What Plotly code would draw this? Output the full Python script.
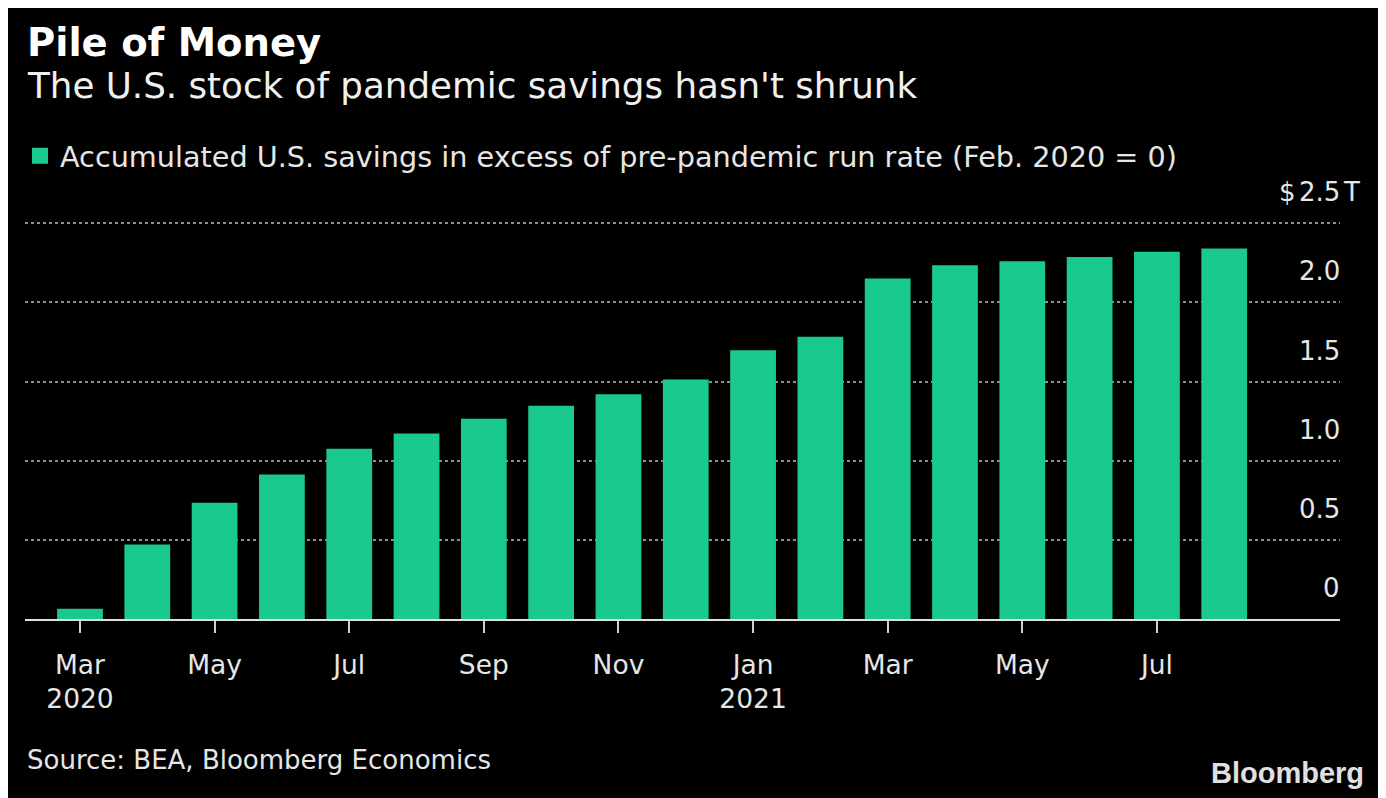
import plotly.graph_objects as go

# ---- data ----
months = ["Mar 2020", "Apr 2020", "May 2020", "Jun 2020", "Jul 2020", "Aug 2020",
          "Sep 2020", "Oct 2020", "Nov 2020", "Dec 2020", "Jan 2021", "Feb 2021",
          "Mar 2021", "Apr 2021", "May 2021", "Jun 2021", "Jul 2021", "Aug 2021"]
excess_savings = [0.065, 0.47, 0.734, 0.913, 1.075, 1.172, 1.265, 1.347, 1.419, 1.513,
                  1.698, 1.782, 2.151, 2.235, 2.26, 2.287, 2.319, 2.34]
tick_months = ["Mar 2020", "May 2020", "Jul 2020", "Sep 2020", "Nov 2020", "Jan 2021",
               "Mar 2021", "May 2021", "Jul 2021"]
tick_labels = ["Mar<br>2020", "May", "Jul", "Sep", "Nov", "Jan<br>2021", "Mar", "May", "Jul"]
y_ticks = [0, 0.5, 1.0, 1.5, 2.0, 2.5]
y_tick_labels = ["0", "0.5", "1.0", "1.5", "2.0", "2.5"]
series_name = "Accumulated U.S. savings in excess of pre-pandemic run rate (Feb. 2020 = 0)"

# ---- layout geometry (screen pixels; page body has an 8px margin) ----
OFF = 8
W, H = 1386 - OFF, 798 - OFF
L, R = 25, 1340          # screen x of plot edges
BOT = 619                # screen y of zero line
PPU = 158.4              # pixels per $1T
YMAX = 2.52
TOP = BOT - PPU * YMAX
pw, ph = R - L, BOT - TOP

def px(x):
    return (x - L) / pw

def py(y):
    return (BOT - y) / ph

FONT = "'DejaVu Sans', Verdana, sans-serif"
TXT = "#e6e6e6"
GREEN = "#1ac98e"

fig = go.Figure()
fig.add_trace(go.Bar(x=months, y=excess_savings, name=series_name,
                     marker=dict(color=GREEN, line=dict(width=0)),
                     legendgroup="s", showlegend=False))
# legend entry for the bar series (larger square swatch)
fig.add_trace(go.Scatter(x=[None], y=[None], mode="markers", name=series_name,
                         marker=dict(symbol="square", size=20, color=GREEN),
                         legendgroup="s", showlegend=True, hoverinfo="skip"))

fig.update_layout(
    width=W, height=H,
    paper_bgcolor="#000000", plot_bgcolor="#000000",
    margin=dict(l=L - OFF, r=W - (R - OFF), t=TOP - OFF, b=H - (BOT - OFF), autoexpand=False),
    bargap=0.32,
    font=dict(family=FONT, color=TXT),
    showlegend=True,
    legend=dict(orientation="h", x=px(20), y=py(156), xanchor="left", yanchor="middle",
                font=dict(size=28.7, color=TXT, family=FONT), bgcolor="rgba(0,0,0,0)",
                itemwidth=30, itemsizing="trace"),
    xaxis=dict(type="category", range=[-0.817, 18.72],
               tickmode="array", tickvals=tick_months, ticktext=tick_labels,
               ticks="outside", ticklen=12, tickwidth=2, tickcolor="#d0d0d0",
               tickfont=dict(size=26.5, color=TXT, family=FONT),
               ticklabelstandoff=9,
               showline=True, linecolor="#e0e0e0", linewidth=2,
               showgrid=False, zeroline=False, fixedrange=True),
    yaxis=dict(range=[0, YMAX], tickmode="array", tickvals=y_ticks,
               showticklabels=False, ticks="",
               showgrid=True, gridcolor="#8f8f8f", gridwidth=2, griddash="dot",
               zeroline=False, showline=False, fixedrange=True),
)

ann = []
# y tick labels above gridlines, right-aligned
for v, t in zip(y_ticks, y_tick_labels):
    ann.append(dict(x=px(1342), y=v, xref="paper", yref="y", text=t, showarrow=False,
                    xanchor="right", yanchor="middle", yshift=31,
                    font=dict(size=26, color=TXT, family=FONT)))
# unit prefix/suffix around top label
ann.append(dict(x=px(1298), y=y_ticks[-1], xref="paper", yref="y", text="$", showarrow=False,
                xanchor="right", yanchor="middle", yshift=31,
                font=dict(size=26, color=TXT, family=FONT)))
ann.append(dict(x=px(1341), y=y_ticks[-1], xref="paper", yref="y", text="T", showarrow=False,
                xanchor="left", yanchor="middle", yshift=31,
                font=dict(size=26, color=TXT, family=FONT)))
# title / subtitle
ann.append(dict(x=px(25), y=py(42), xref="paper", yref="paper", text="<b>Pile of Money</b>",
                showarrow=False, xanchor="left", yanchor="middle",
                font=dict(size=38.5, color="#ffffff", family=FONT)))
ann.append(dict(x=px(25), y=py(85), xref="paper", yref="paper",
                text="The U.S. stock of pandemic savings hasn't shrunk",
                showarrow=False, xanchor="left", yanchor="middle",
                font=dict(size=35.7, color="#f0f0f0", family=FONT)))
# source / logo
ann.append(dict(x=px(25), y=py(760), xref="paper", yref="paper",
                text="Source: BEA, Bloomberg Economics",
                showarrow=False, xanchor="left", yanchor="middle",
                font=dict(size=26, color=TXT, family=FONT)))
ann.append(dict(x=px(1366), y=py(773), xref="paper", yref="paper",
                text="<b>Bloomberg</b>",
                showarrow=False, xanchor="right", yanchor="middle",
                font=dict(size=29, color="#e0e0e0", family="Liberation Sans, Arial, sans-serif")))
fig.update_layout(annotations=ann)

fig.write_html("out.html")
